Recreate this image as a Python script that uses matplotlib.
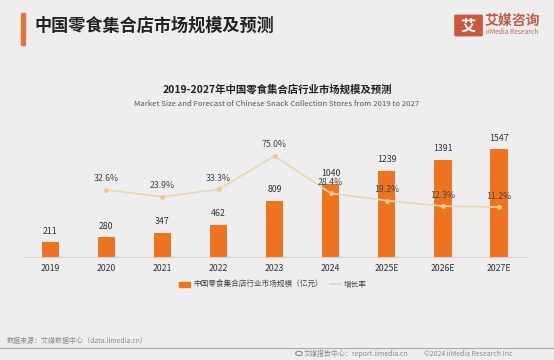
import matplotlib
matplotlib.use("Agg")
import matplotlib.pyplot as plt
from matplotlib.patches import Rectangle, FancyBboxPatch
from matplotlib.lines import Line2D

plt.rcParams['font.family'] = ['Noto Sans CJK SC', 'DejaVu Sans']

# data
years = ["2019", "2020", "2021", "2022", "2023", "2024", "2025E", "2026E", "2027E"]
market_size = [211, 280, 347, 462, 809, 1040, 1239, 1391, 1547]
growth_years = ["2020", "2021", "2022", "2023", "2024", "2025E", "2026E", "2027E"]
growth_rate = [32.6, 23.9, 33.3, 75.0, 28.4, 19.2, 12.3, 11.2]

BG = "#EEEEEE"
BAR_COLOR = "#EE7421"
LINE_COLOR = "#E8D6B6"
TEXT_DARK = "#333333"

fig = plt.figure(figsize=(5.54, 3.6), dpi=100)
fig.patch.set_facecolor(BG)

# header
fig.add_artist(Rectangle((21 / 554, 1 - 45 / 360), 4 / 554, 32 / 360,
                         transform=fig.transFigure, color="#E0753F"))
fig.text(34 / 554, 1 - 26 / 360, "中国零食集合店市场规模及预测", fontsize=12.3,
         fontweight="bold", color="#222222", va="center", ha="left")

# logo
fig.add_artist(FancyBboxPatch((456 / 554, 1 - 35 / 360), 25 / 554, 19 / 360,
                              boxstyle="round,pad=0.002", transform=fig.transFigure,
                              color="#C9583F"))
fig.text(468.5 / 554, 1 - 25.5 / 360, "艾", fontsize=11, fontweight="bold",
         color="white", ha="center", va="center")
fig.text(485 / 554, 1 - 21 / 360, "艾媒咨询", fontsize=10, fontweight="bold",
         color="#C45A44", ha="left", va="center")
fig.text(486 / 554, 1 - 32 / 360, "iiMedia Research", fontsize=4.8,
         color="#B86A5A", ha="left", va="center")

# chart titles
fig.text(0.5, 1 - 89 / 360, "2019-2027年中国零食集合店行业市场规模及预测",
         fontsize=7.5, fontweight="bold", color="#222222", ha="center", va="center")
fig.text(0.5, 1 - 104 / 360,
         "Market Size and Forecast of Chinese Snack Collection Stores from 2019 to 2027",
         fontsize=5.6, color="#555555", ha="center", va="center")

# main axes
ax = fig.add_axes([25 / 554, 1 - 257 / 360, 502 / 554, 117 / 360])
ax.set_facecolor("none")
x = list(range(len(years)))
bars = ax.bar(x, market_size, width=0.31, color=BAR_COLOR, zorder=2)
ax.set_xlim(-0.45, 8.5)
ax.set_ylim(0, 1676)
for xi, v in zip(x, market_size):
    ax.annotate(str(v), (xi, v), xytext=(0, 11), textcoords="offset pixels",
                ha="center", va="center", fontsize=6.3, color=TEXT_DARK)

ax.set_xticks(x)
ax.set_xticklabels(years, fontsize=6.3, color=TEXT_DARK)
ax.tick_params(axis="x", length=0, pad=5)
ax.set_yticks([])
for s in ["top", "right", "left"]:
    ax.spines[s].set_visible(False)
ax.spines["bottom"].set_color("#D2D2D2")
ax.spines["bottom"].set_linewidth(0.8)

ax2 = ax.twinx()
gx = [years.index(y) for y in growth_years]
ax2.plot(gx, growth_rate, color=LINE_COLOR, linewidth=1.2, marker="o",
         markersize=2.5, markerfacecolor="#F0C890", markeredgecolor="#F0C890", zorder=3)
ax2.set_ylim(-51.3, 95)
ax2.set_xlim(-0.45, 8.5)
ax2.set_yticks([])
for s in ["top", "right", "left", "bottom"]:
    ax2.spines[s].set_visible(False)
for xi, r in zip(gx, growth_rate):
    ax2.annotate(f"{r:.1f}%", (xi, r), xytext=(0, 11), textcoords="offset pixels",
                 ha="center", va="center", fontsize=6.3, color="#444444")

# legend
handles = [Rectangle((0, 0), 1, 1, color=BAR_COLOR),
           Line2D([0], [0], color=LINE_COLOR, linewidth=1.2)]
fig.legend(handles, ["中国零食集合店行业市场规模（亿元）", "增长率"],
           loc="center", bbox_to_anchor=(273 / 554, 1 - 285 / 360), ncol=2,
           frameon=False, fontsize=5.5, handlelength=1.4, handleheight=0.6,
           columnspacing=1.0, handletextpad=0.4, labelcolor="#444444")

# footer
fig.text(7 / 554, 1 - 341 / 360, "数据来源：艾媒数据中心（data.iimedia.cn）",
         fontsize=5, color="#888888", ha="left", va="center")
fig.add_artist(Line2D([0, 1], [1 - 348 / 360, 1 - 348 / 360],
                      transform=fig.transFigure, color="#AAAAAA", linewidth=0.8))
fig.text(304 / 554, 1 - 353.5 / 360, "艾媒报告中心：report.iimedia.cn",
         fontsize=5, color="#888888", ha="left", va="center")
fig.text(512 / 554, 1 - 353.5 / 360, "©2024 iiMedia Research Inc",
         fontsize=5, color="#888888", ha="right", va="center")
fig.add_artist(plt.Circle((299 / 554, 1 - 353.5 / 360), 0.006,
                          transform=fig.transFigure, fill=False, color="#888888", lw=0.8))

fig.savefig("out.png", dpi=100, facecolor=BG)
